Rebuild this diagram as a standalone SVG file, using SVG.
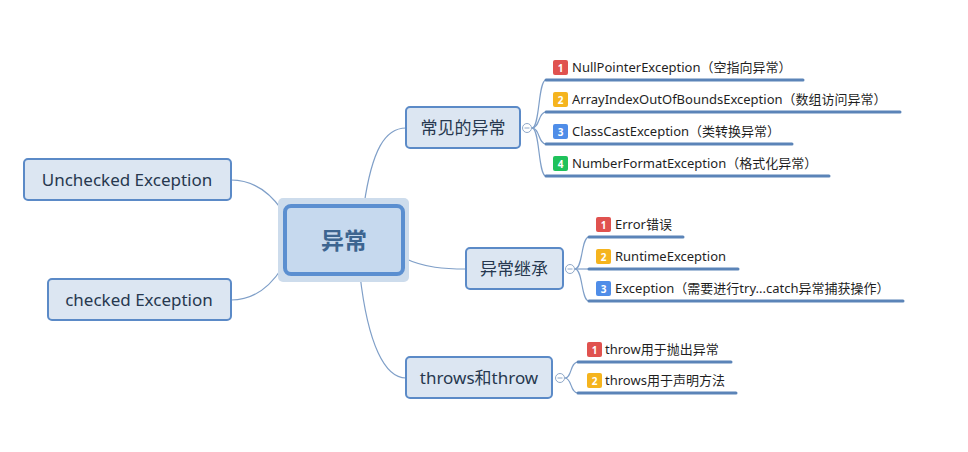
<svg xmlns="http://www.w3.org/2000/svg" width="968" height="452" viewBox="0 0 968 452">
<style>
.bg{fill:#ffffff}
.con{fill:none;stroke:#7f9fc8;stroke-width:1.2}
.ul{fill:none;stroke:#5b84b8;stroke-width:3;stroke-linecap:round}
.topic{fill:#dce6f2;stroke:#5b8ac7;stroke-width:2}
.tt{font-family:"Noto Sans","Noto Sans CJK SC",sans-serif;font-size:17px;fill:#27384f;text-anchor:middle}
.ct{font-family:"Noto Sans CJK SC",sans-serif;font-size:23px;font-weight:bold;fill:#3d6590;text-anchor:middle}
.st{font-family:"Noto Sans","Noto Sans CJK SC",sans-serif;font-size:13px;fill:#1f1f1f}
.bn{font-family:"Noto Sans",sans-serif;font-size:10px;font-weight:bold;fill:#ffffff;text-anchor:middle}
.cc{fill:#ffffff;stroke:#8fa8c8;stroke-width:1}
.b1{fill:#e0524f}.b2{fill:#f5b41e}.b3{fill:#4f8de8}.b4{fill:#1fc25b}
</style>
<rect class="bg" x="0" y="0" width="968" height="452"/>
<g id="connectors">
  <path class="con" d="M282,210 C268,190 250,180 231,180"/>
  <path class="con" d="M282,268 C268,290 250,300 231,300"/>
  <path class="con" d="M364,205 C372,150 385,128 406,128"/>
  <path class="con" d="M404,258 C425,268 445,269 466,269"/>
  <path class="con" d="M360,275 C368,345 385,378 406,378"/>
  <path class="con" d="M532,128 C540,128 538,80 546,80"/>
  <path class="con" d="M532,128 C540,128 538,112 546,112"/>
  <path class="con" d="M532,128 C540,128 538,144 546,144"/>
  <path class="con" d="M532,128 C540,128 538,176 546,176"/>
  <path class="con" d="M575,269 C583,269 581,237 589,237"/>
  <path class="con" d="M575,269 L589,269"/>
  <path class="con" d="M575,269 C583,269 581,301 589,301"/>
  <path class="con" d="M565,378 C572,378 570,362 578,362"/>
  <path class="con" d="M565,378 C572,378 570,393 578,393"/>
</g>
<g id="center">
  <rect x="278" y="198" width="131" height="84" rx="5" fill="#cddcec"/>
  <rect x="285" y="206" width="118" height="68" rx="6" fill="#c6d9ee" stroke="#5b8fd0" stroke-width="4"/>
  <text class="ct" x="344" y="249">异常</text>
</g>
<g id="unchecked">
  <rect class="topic" x="24" y="159" width="207" height="41" rx="4"/>
  <text class="tt" x="127" y="186">Unchecked Exception</text>
</g>
<g id="checked">
  <rect class="topic" x="48" y="279" width="183" height="41" rx="4"/>
  <text class="tt" x="139" y="306">checked Exception</text>
</g>
<g id="common">
  <rect class="topic" x="406" y="107" width="114" height="41" rx="4"/>
  <text class="tt" x="463" y="134">常见的异常</text>
  <circle class="cc" cx="527" cy="128" r="4.5"/>
  <line x1="524.5" y1="128" x2="529.5" y2="128" stroke="#8fa8c8" stroke-width="1"/>
</g>
<g id="inherit">
  <rect class="topic" x="466" y="248" width="97" height="41" rx="4"/>
  <text class="tt" x="514" y="275">异常继承</text>
  <circle class="cc" cx="570" cy="269" r="4.5"/>
  <line x1="567.5" y1="269" x2="572.5" y2="269" stroke="#8fa8c8" stroke-width="1"/>
</g>
<g id="throws">
  <rect class="topic" x="406" y="357" width="146" height="41" rx="4"/>
  <text class="tt" x="479" y="384">throws和throw</text>
  <circle class="cc" cx="560" cy="378" r="4.5"/>
  <line x1="557.5" y1="378" x2="562.5" y2="378" stroke="#8fa8c8" stroke-width="1"/>
</g>
<g id="c1">
  <line class="ul" x1="546" y1="80" x2="803" y2="80"/>
  <rect class="b1" x="553" y="60" width="15" height="15" rx="2"/><text class="bn" x="560.5" y="71.5">1</text>
  <text class="st" x="572" y="72">NullPointerException（空指向异常）</text>
</g>
<g id="c2">
  <line class="ul" x1="546" y1="112" x2="900" y2="112"/>
  <rect class="b2" x="553" y="92" width="15" height="15" rx="2"/><text class="bn" x="560.5" y="103.5">2</text>
  <text class="st" x="572" y="104">ArrayIndexOutOfBoundsException（数组访问异常）</text>
</g>
<g id="c3">
  <line class="ul" x1="546" y1="144" x2="792" y2="144"/>
  <rect class="b3" x="553" y="124" width="15" height="15" rx="2"/><text class="bn" x="560.5" y="135.5">3</text>
  <text class="st" x="572" y="136">ClassCastException（类转换异常）</text>
</g>
<g id="c4">
  <line class="ul" x1="546" y1="176" x2="829" y2="176"/>
  <rect class="b4" x="553" y="156" width="15" height="15" rx="2"/><text class="bn" x="560.5" y="167.5">4</text>
  <text class="st" x="572" y="168">NumberFormatException（格式化异常）</text>
</g>
<g id="i1">
  <line class="ul" x1="589" y1="237" x2="683" y2="237"/>
  <rect class="b1" x="596" y="217" width="15" height="15" rx="2"/><text class="bn" x="603.5" y="228.5">1</text>
  <text class="st" x="615" y="229">Error错误</text>
</g>
<g id="i2">
  <line class="ul" x1="589" y1="269" x2="738" y2="269"/>
  <rect class="b2" x="596" y="249" width="15" height="15" rx="2"/><text class="bn" x="603.5" y="260.5">2</text>
  <text class="st" x="615" y="261">RuntimeException</text>
</g>
<g id="i3">
  <line class="ul" x1="589" y1="301" x2="903" y2="301"/>
  <rect class="b3" x="596" y="281" width="15" height="15" rx="2"/><text class="bn" x="603.5" y="292.5">3</text>
  <text class="st" x="615" y="293">Exception（需要进行try...catch异常捕获操作）</text>
</g>
<g id="t1">
  <line class="ul" x1="578" y1="362" x2="731" y2="362"/>
  <rect class="b1" x="587" y="342" width="15" height="15" rx="2"/><text class="bn" x="594.5" y="353.5">1</text>
  <text class="st" x="605" y="354">throw用于抛出异常</text>
</g>
<g id="t2">
  <line class="ul" x1="578" y1="393" x2="736" y2="393"/>
  <rect class="b2" x="587" y="373" width="15" height="15" rx="2"/><text class="bn" x="594.5" y="384.5">2</text>
  <text class="st" x="605" y="385">throws用于声明方法</text>
</g>
</svg>
